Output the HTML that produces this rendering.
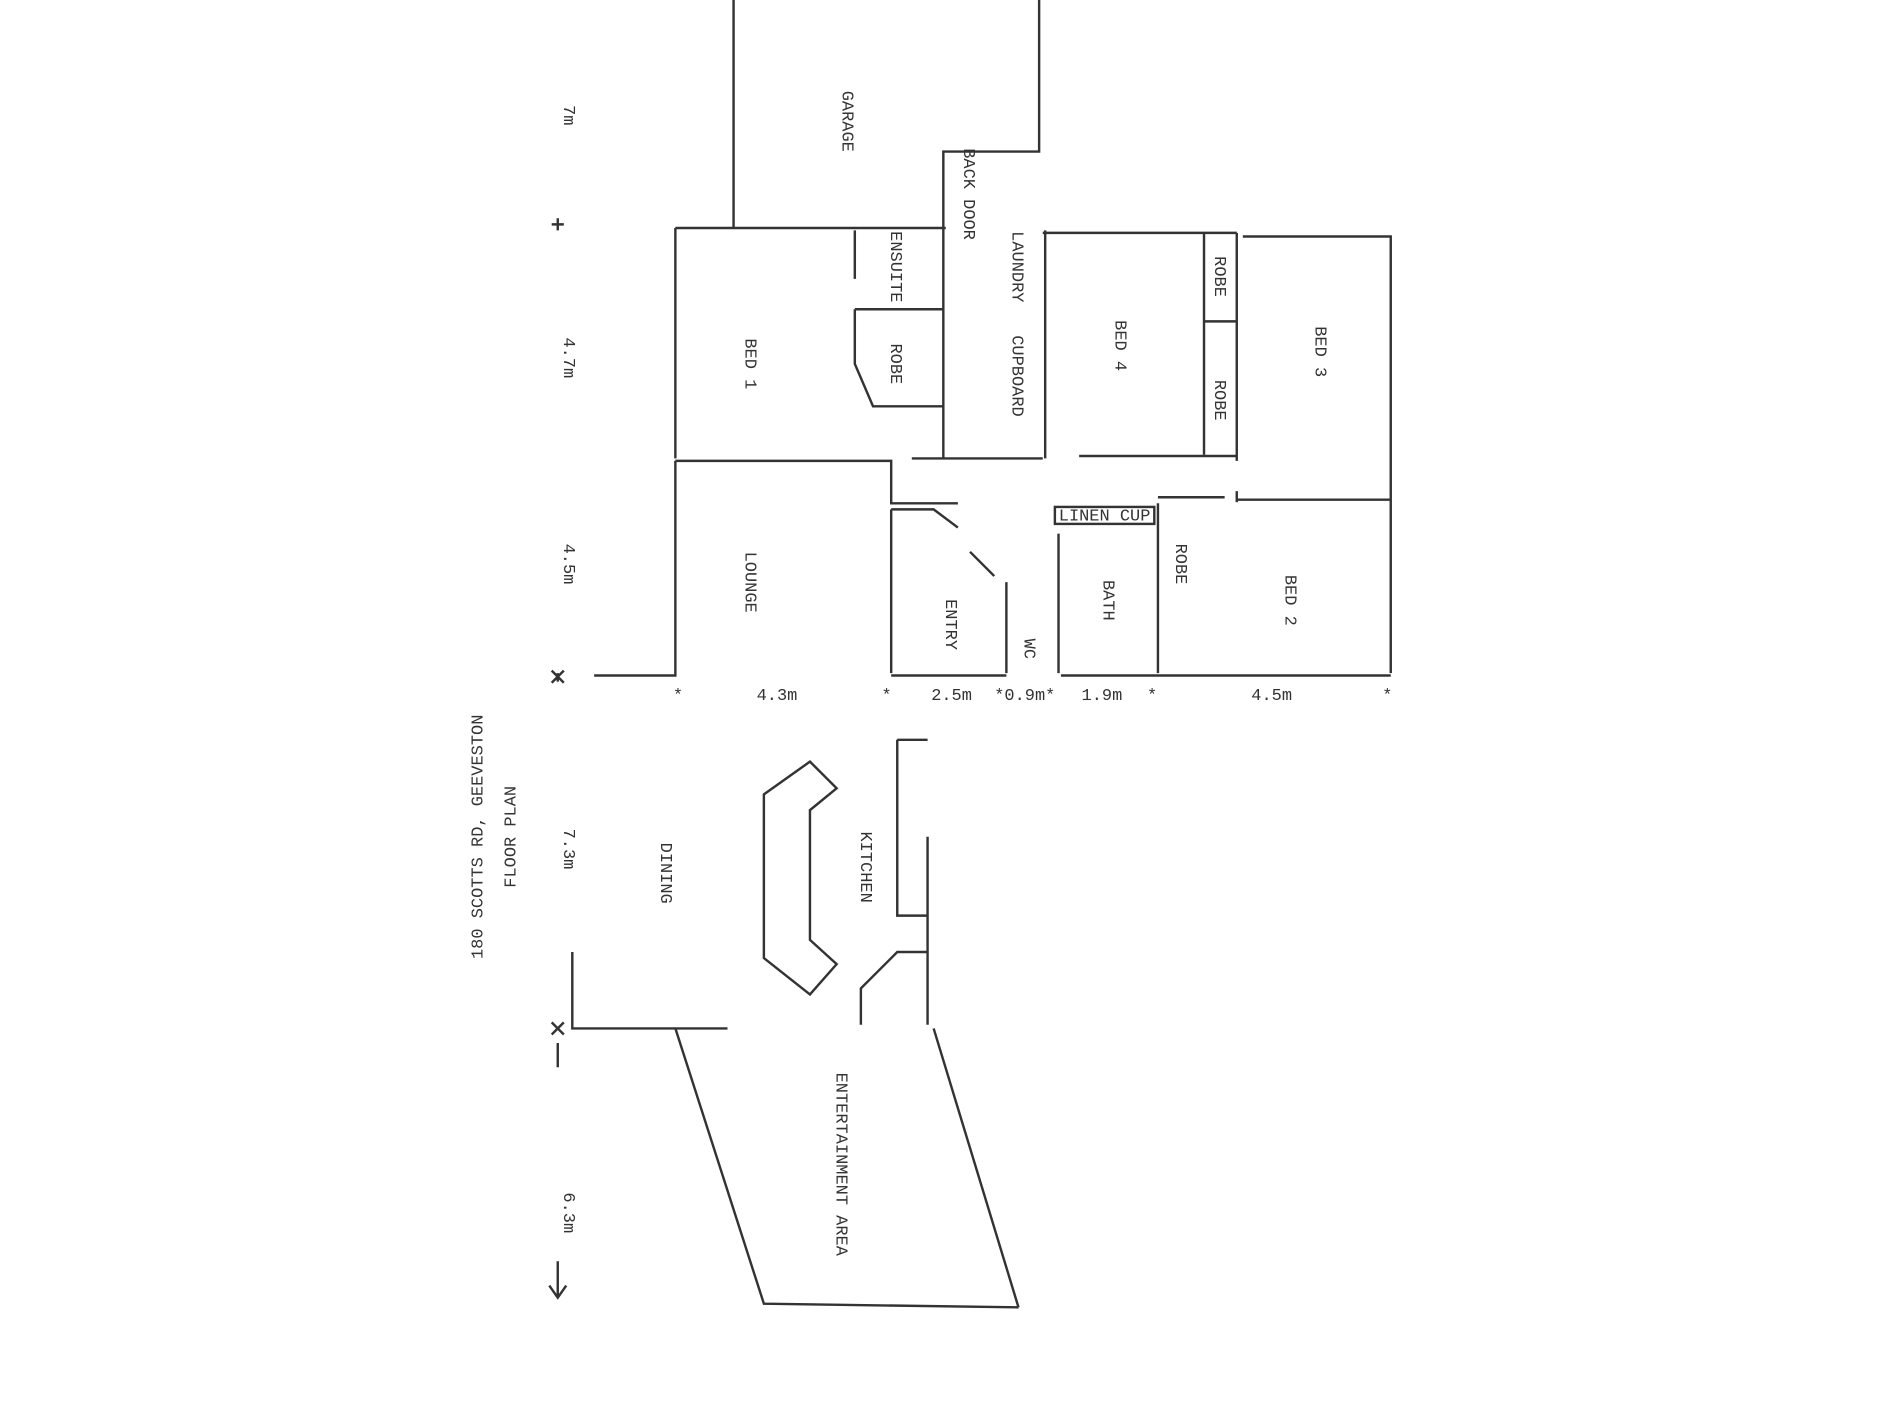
<!DOCTYPE html>
<html><head><meta charset="utf-8"><style>
html,body{margin:0;padding:0;background:#fff;}
svg{display:block;}
text{font-family:"Liberation Mono",monospace;fill:#333;font-size:14px;}
</style></head><body>
<svg width="1900" height="1425" viewBox="0 0 1567 1175" preserveAspectRatio="none" xmlns="http://www.w3.org/2000/svg">
<g stroke="#333" stroke-width="2" fill="none">
<path d="M605 0V188M857 0V125H778V378"/>
<path d="M557 188H780M860 192H1020M1025 195H1147V555"/>
<path d="M557 188V378M557 380H735V415H790"/>
<path d="M557 380V557H490"/>
<path d="M705 190V230M705 255H778M705 255V300L720 335H778"/>
<path d="M862 190V378M752 378H860M890 376H1020"/>
<path d="M993 192V375M1020 192V380M993 265H1020"/>
<path d="M1020 412H1147M1020 405V414M955 410H1010M955 415V555"/>
<rect x="870" y="418" width="82" height="14"/>
<path d="M735 420V555M735 420H770L790 435M800 455L820 475M830 480V555M873 440V555"/>
<path d="M735 557H830M875 557H955M955 557H1147"/>
<path d="M472 785V848H600M740 610V755H765M740 610H765M765 690V845M765 785H740L710 815V845"/>
<path d="M630 655L668 628L690 650L668 668V775L690 795L668 820L630 790Z"/>
<path d="M557 848L630 1075L840 1078M770 848L840 1078"/>
<path d="M460 180V190M455 185H465M460 555V562M455 553L465 563M455 563L465 553"/>
<path d="M455 843L465 853M455 853L465 843M460 860V880M460 1040V1070M453 1060L460 1070L467 1060"/>
</g>
<g font-size="13">
<text x="555" y="577">*</text><text x="624" y="577">4.3m</text>
<text x="727" y="577">*</text><text x="768" y="577">2.5m</text>
<text x="820" y="577">*0.9m*</text><text x="892" y="577">1.9m</text>
<text x="946" y="577">*</text><text x="1032" y="577">4.5m</text><text x="1140" y="577">*</text>
</g>
<g font-size="14">
<text transform="translate(465,95) rotate(90)" text-anchor="middle">7m</text>
<text transform="translate(465,295) rotate(90)" text-anchor="middle">4.7m</text>
<text transform="translate(465,465) rotate(90)" text-anchor="middle">4.5m</text>
<text transform="translate(465,700) rotate(90)" text-anchor="middle">7.3m</text>
<text transform="translate(465,1000) rotate(90)" text-anchor="middle">6.3m</text>
</g>
<g font-size="15">
<text transform="translate(398,690) rotate(-90)" text-anchor="middle">180 SCOTTS RD, GEEVESTON</text>
<text transform="translate(425,690) rotate(-90)" text-anchor="middle">FLOOR PLAN</text>
</g>
<g font-size="13" text-anchor="middle">
<text transform="translate(695,100) rotate(90)">GARAGE</text>
<text transform="translate(615,300) rotate(90)">BED 1</text>
<text transform="translate(735,300) rotate(90)">ROBE</text>
<text transform="translate(735,220) rotate(90)">ENSUITE</text>
<text transform="translate(795,160) rotate(90)">BACK DOOR</text>
<text transform="translate(835,220) rotate(90)">LAUNDRY</text>
<text transform="translate(835,310) rotate(90)">CUPBOARD</text>
<text transform="translate(920,285) rotate(90)">BED 4</text>
<text transform="translate(1002,228) rotate(90)">ROBE</text>
<text transform="translate(1002,330) rotate(90)">ROBE</text>
<text transform="translate(1085,290) rotate(90)">BED 3</text>
<text transform="translate(615,480) rotate(90)">LOUNGE</text>
<text transform="translate(780,515) rotate(90)">ENTRY</text>
<text transform="translate(845,535) rotate(90)">WC</text>
<text transform="translate(910,495) rotate(90)">BATH</text>
<text transform="translate(970,465) rotate(90)">ROBE</text>
<text transform="translate(1060,495) rotate(90)">BED 2</text>
<text transform="translate(545,720) rotate(90)">DINING</text>
<text transform="translate(710,715) rotate(90)">KITCHEN</text>
<text transform="translate(690,960) rotate(90)">ENTERTAINMENT AREA</text>
</g>
<text x="911" y="429" font-size="9" text-anchor="middle">LINEN CUP</text>
</svg>
</body></html>
